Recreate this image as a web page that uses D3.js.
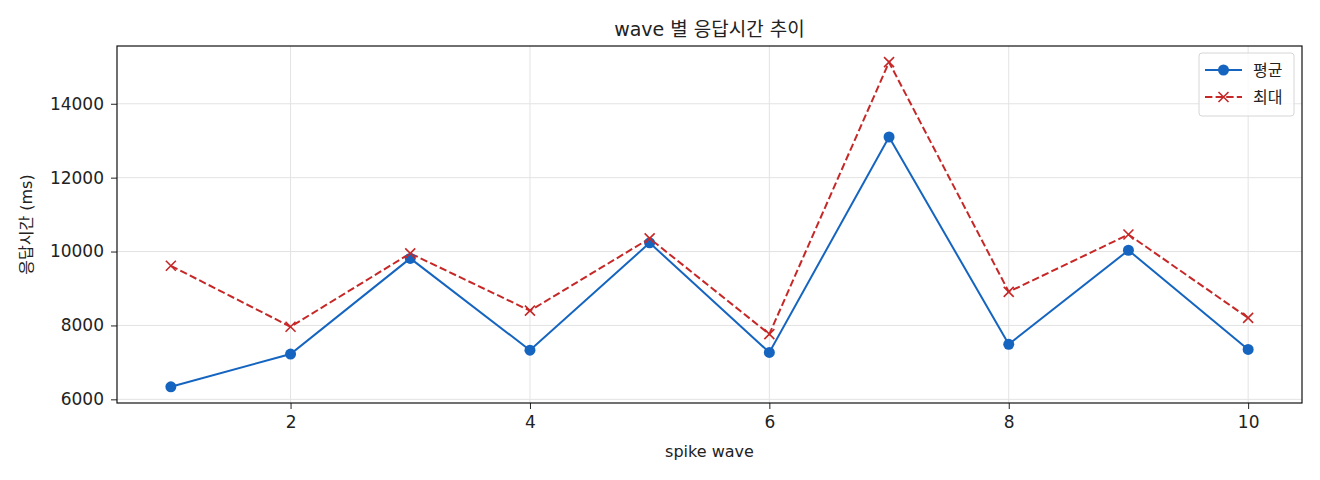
<!DOCTYPE html>
<html>
<head>
<meta charset="utf-8">
<script src="https://cdn.jsdelivr.net/npm/d3@7"></script>
<style>
  body { margin: 0; background: #fff; }
  text { font-family: "DejaVu Sans", "Noto Sans CJK KR", sans-serif; fill: #222; }
</style>
</head>
<body>
<div id="chart"></div>
<script>
let waves = [1, 2, 3, 4, 5, 6, 7, 8, 9, 10];
let avgMs = [6340, 7225, 9815, 7330, 10235, 7270, 13100, 7490, 10035, 7350];
let maxMs = [9615, 7965, 9950, 8400, 10355, 7765, 15125, 8910, 10460, 8205];
let xTicks = [2, 4, 6, 8, 10];
let yTicks = [6000, 8000, 10000, 12000, 14000];
let seriesNames = ['평균', '최대'];

let dim = { width: 1320, height: 480 };
let plot = { left: 117, right: 1302, top: 46, bottom: 403 };

let svg = d3.select('#chart').append('svg')
    .attr('width', dim.width)
    .attr('height', dim.height);

let scaleX = d3.scaleLinear()
    .domain([0.55, 10.45])
    .range([plot.left, plot.right]);

let scaleY = d3.scaleLinear()
    .domain([5901, 15563])
    .range([plot.bottom, plot.top]);

// grid
svg.append('g')
    .selectAll('line')
    .data(xTicks)
    .join('line')
    .attr('x1', d => scaleX(d)).attr('x2', d => scaleX(d))
    .attr('y1', plot.top).attr('y2', plot.bottom)
    .attr('stroke', '#e3e3e3').attr('stroke-width', 1);

svg.append('g')
    .selectAll('line')
    .data(yTicks)
    .join('line')
    .attr('x1', plot.left).attr('x2', plot.right)
    .attr('y1', d => scaleY(d)).attr('y2', d => scaleY(d))
    .attr('stroke', '#e3e3e3').attr('stroke-width', 1);

// axes
let axisX = svg.append('g')
    .attr('transform', `translate(0,${plot.bottom})`)
    .call(d3.axisBottom(scaleX).tickValues(xTicks).tickSize(6).tickPadding(7).tickSizeOuter(0));

let axisY = svg.append('g')
    .attr('transform', `translate(${plot.left},0)`)
    .call(d3.axisLeft(scaleY).tickValues(yTicks).tickFormat(d3.format('d')).tickSize(6).tickPadding(7).tickSizeOuter(0));

[axisX, axisY].forEach(a => {
    a.select('.domain').remove();
    a.selectAll('line').attr('stroke', '#222');
    a.selectAll('text').style('font-size', '17px').attr('fill', '#222');
});

// frame
svg.append('rect')
    .attr('x', plot.left).attr('y', plot.top)
    .attr('width', plot.right - plot.left)
    .attr('height', plot.bottom - plot.top)
    .attr('fill', 'none').attr('stroke', '#111').attr('stroke-width', 1.2);

let line = d3.line()
    .x(d => scaleX(d[0]))
    .y(d => scaleY(d[1]));

let avgData = waves.map((w, i) => [w, avgMs[i]]);
let maxData = waves.map((w, i) => [w, maxMs[i]]);

const blue = '#1565c0';
const red = '#c62828';

svg.append('path')
    .datum(avgData)
    .attr('d', line)
    .attr('fill', 'none').attr('stroke', blue).attr('stroke-width', 2);

svg.append('path')
    .datum(maxData)
    .attr('d', line)
    .attr('fill', 'none').attr('stroke', red).attr('stroke-width', 2)
    .attr('stroke-dasharray', '7.4,3.2');

svg.append('g')
    .selectAll('circle')
    .data(avgData)
    .join('circle')
    .attr('cx', d => scaleX(d[0]))
    .attr('cy', d => scaleY(d[1]))
    .attr('r', 5.5)
    .attr('fill', blue);

function cross(g, x, y) {
    const s = 5;
    g.append('path')
        .attr('d', `M${x - s},${y - s}L${x + s},${y + s}M${x - s},${y + s}L${x + s},${y - s}`)
        .attr('stroke', red).attr('stroke-width', 1.6).attr('fill', 'none');
}

let crosses = svg.append('g');
maxData.forEach(d => cross(crosses, scaleX(d[0]), scaleY(d[1])));

// title & labels
svg.append('text')
    .attr('x', (plot.left + plot.right) / 2).attr('y', 36)
    .attr('text-anchor', 'middle')
    .style('font-size', '19px')
    .text('wave 별 응답시간 추이');

svg.append('text')
    .attr('x', (plot.left + plot.right) / 2).attr('y', 457)
    .attr('text-anchor', 'middle')
    .style('font-size', '16px')
    .text('spike wave');

svg.append('text')
    .attr('transform', `translate(32,${(plot.top + plot.bottom) / 2}) rotate(-90)`)
    .attr('text-anchor', 'middle')
    .style('font-size', '16px')
    .text('응답시간 (ms)');

// legend
let legend = svg.append('g').attr('transform', 'translate(1199,53)');
legend.append('rect')
    .attr('width', 95).attr('height', 63).attr('rx', 3)
    .attr('fill', '#fff').attr('fill-opacity', 0.8)
    .attr('stroke', '#d6d6d6');

legend.append('line')
    .attr('x1', 6).attr('x2', 43).attr('y1', 17).attr('y2', 17)
    .attr('stroke', blue).attr('stroke-width', 2);
legend.append('circle').attr('cx', 24.5).attr('cy', 17).attr('r', 5.5).attr('fill', blue);

legend.append('line')
    .attr('x1', 6).attr('x2', 43).attr('y1', 44).attr('y2', 44)
    .attr('stroke', red).attr('stroke-width', 2).attr('stroke-dasharray', '7.4,3.2');
cross(legend, 24.5, 44);

legend.selectAll('text')
    .data(seriesNames)
    .join('text')
    .attr('x', 54)
    .attr('y', (d, i) => 17 + i * 27)
    .attr('dy', '0.35em')
    .style('font-size', '16px')
    .text(d => d);
</script>
</body>
</html>
